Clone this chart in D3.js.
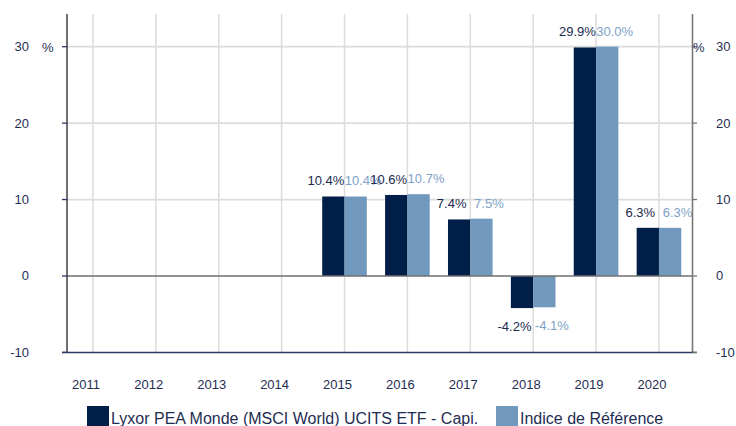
<!DOCTYPE html>
<html>
<head>
<meta charset="utf-8">
<script src="https://cdn.jsdelivr.net/npm/d3@7"></script>
<style>
  html, body { margin: 0; padding: 0; background: #fff; }
  svg { display: block; font-family: Arial, "Liberation Sans", sans-serif; }
</style>
</head>
<body>
<div id="chart"></div>
<script>
// Data
const years = ['2011', '2012', '2013', '2014', '2015', '2016', '2017', '2018', '2019', '2020'];
const fundValues = [null, null, null, null, 10.4, 10.6, 7.4, -4.2, 29.9, 6.3];
const indexValues = [null, null, null, null, 10.4, 10.7, 7.5, -4.1, 30.0, 6.3];
const yTicks = [-10, 0, 10, 20, 30];
const seriesNames = ['Lyxor PEA Monde (MSCI World) UCITS ETF - Capi.', 'Indice de Référence'];

const colors = { fund: '#001e48', index: '#7099bd', fundText: '#1b2a4e', indexText: '#7ea2c7' };

const width = 736, height = 426;
const plot = { left: 67, right: 692.5, top: 14, bottom: 352.4 };

const svg = d3.select('#chart').append('svg')
    .attr('width', width)
    .attr('height', height);

const y = d3.scaleLinear().domain([-10, 30]).range([352.4, 46.7]);

const x = d3.scaleBand()
    .domain(years)
    .range([61.5, 690.4])
    .paddingInner(0)
    .paddingOuter(0);

const inner = d3.scaleBand()
    .domain(['fund', 'index'])
    .range([0, 44.6]);

const cx = d => x(d) + x.bandwidth() / 2;

/* grid */
svg.append('g')
    .selectAll('line')
    .data(years)
    .join('line')
    .attr('x1', d => cx(d)).attr('x2', d => cx(d))
    .attr('y1', plot.top).attr('y2', plot.bottom)
    .attr('stroke', '#dcdcdc')
    .attr('stroke-width', 1.5);

svg.append('g')
    .selectAll('line')
    .data(yTicks.filter(t => t > 0))
    .join('line')
    .attr('x1', plot.left).attr('x2', plot.right)
    .attr('y1', d => y(d)).attr('y2', d => y(d))
    .attr('stroke', '#dcdcdc')
    .attr('stroke-width', 1.8);

/* bars */
const rows = years.map((yr, i) => ({ year: yr, fund: fundValues[i], index: indexValues[i] }));
const bars = [];
rows.forEach(r => {
    if (r.fund != null) bars.push({ year: r.year, key: 'fund', value: r.fund });
    if (r.index != null) bars.push({ year: r.year, key: 'index', value: r.index });
});

svg.append('g')
    .selectAll('rect')
    .data(bars)
    .join('rect')
    .attr('x', d => cx(d.year) - 22.3 + inner(d.key))
    .attr('width', inner.bandwidth())
    .attr('y', d => y(Math.max(0, d.value)))
    .attr('height', d => Math.abs(y(d.value) - y(0)))
    .attr('fill', d => colors[d.key]);

/* value labels: dark ones end at the group centre, light ones start there */
svg.append('g')
    .selectAll('text')
    .data(bars)
    .join('text')
    .attr('x', d => {
        const mid = cx(d.year) - 22.3 + inner(d.key) + inner.bandwidth() / 2;
        return mid + (d.key === 'fund' ? -7.5 : 7.5);
    })
    .attr('y', d => d.value >= 0 ? y(d.value) - 11 : y(d.value) + 23)
    .attr('text-anchor', 'middle')
    .attr('font-size', 13)
    .attr('fill', d => d.key === 'fund' ? colors.fundText : colors.indexText)
    .text(d => d.value.toFixed(1) + '%');

/* zero line */
svg.append('line')
    .attr('x1', plot.left).attr('x2', plot.right)
    .attr('y1', y(0)).attr('y2', y(0))
    .attr('stroke', '#6f6f6f')
    .attr('stroke-width', 1.6);

/* axes */
svg.append('line')
    .attr('x1', plot.left).attr('x2', plot.left)
    .attr('y1', plot.top).attr('y2', plot.bottom)
    .attr('stroke', '#222')
    .attr('stroke-width', 1.3);

svg.append('line')
    .attr('x1', plot.right).attr('x2', plot.right)
    .attr('y1', plot.top).attr('y2', plot.bottom)
    .attr('stroke', '#777')
    .attr('stroke-width', 1.6);

svg.append('line')
    .attr('x1', 62).attr('x2', 697)
    .attr('y1', plot.bottom).attr('y2', plot.bottom)
    .attr('stroke', '#2a3a60')
    .attr('stroke-width', 1.5);

svg.append('g')
    .selectAll('line')
    .data(yTicks)
    .join('line')
    .attr('x1', 62).attr('x2', plot.left)
    .attr('y1', d => y(d)).attr('y2', d => y(d))
    .attr('stroke', '#2a3a60')
    .attr('stroke-width', 1.3);

svg.append('g')
    .selectAll('line')
    .data(yTicks)
    .join('line')
    .attr('x1', plot.right).attr('x2', 697)
    .attr('y1', d => y(d)).attr('y2', d => y(d))
    .attr('stroke', '#777')
    .attr('stroke-width', 1.3);

svg.append('g')
    .selectAll('text')
    .data(yTicks)
    .join('text')
    .attr('x', 29)
    .attr('y', d => y(d) + 4.5)
    .attr('text-anchor', 'end')
    .attr('font-size', 13)
    .attr('fill', '#1f2d52')
    .text(d => d);

svg.append('g')
    .selectAll('text')
    .data(yTicks)
    .join('text')
    .attr('x', 716)
    .attr('y', d => y(d) + 4.5)
    .attr('font-size', 13)
    .attr('fill', '#1f2d52')
    .text(d => d);

svg.append('text')
    .attr('x', 42).attr('y', y(30) + 5.5)
    .attr('font-size', 13).attr('fill', '#1f2d52')
    .text('%');

svg.append('text')
    .attr('x', 693).attr('y', y(30) + 5.5)
    .attr('font-size', 13).attr('fill', '#1f2d52')
    .text('%');

svg.append('g')
    .selectAll('text')
    .data(years)
    .join('text')
    .attr('x', d => cx(d) - 7)
    .attr('y', 389)
    .attr('text-anchor', 'middle')
    .attr('font-size', 13)
    .attr('fill', '#1f2d52')
    .text(d => d);

/* legend */
const legend = svg.append('g');
const legendItems = [
    { name: seriesNames[0], color: colors.fund, x: 87 },
    { name: seriesNames[1], color: colors.index, x: 496 }
];
legendItems.forEach(item => {
    legend.append('rect')
        .attr('x', item.x).attr('y', 406)
        .attr('width', 22).attr('height', 20)
        .attr('fill', item.color);
    legend.append('text')
        .attr('x', item.x + 24).attr('y', 423.5)
        .attr('font-size', 16)
        .attr('fill', '#1f2d52')
        .text(item.name);
});
</script>
</body>
</html>
